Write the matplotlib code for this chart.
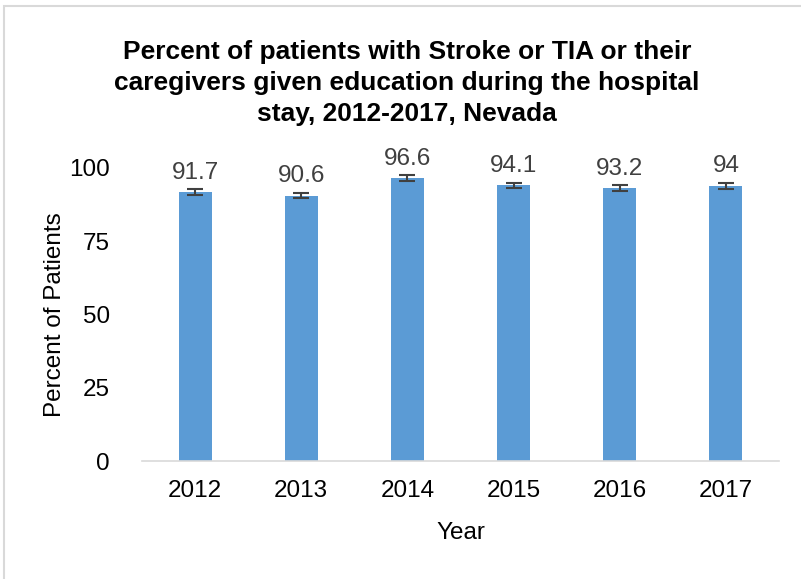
import matplotlib
matplotlib.use("Agg")
import matplotlib.pyplot as plt
from matplotlib.patches import Rectangle

years = ["2012", "2013", "2014", "2015", "2016", "2017"]
values = [91.7, 90.6, 96.6, 94.1, 93.2, 94]
labels = ["91.7", "90.6", "96.6", "94.1", "93.2", "94"]
errors = [1.0, 1.0, 0.9, 0.9, 1.0, 1.0]
yticks = [0, 25, 50, 75, 100]

FONT = ["Liberation Sans", "DejaVu Sans"]
plt.rcParams["font.family"] = FONT

fig = plt.figure(figsize=(8.01, 5.79), dpi=100)
fig.patches.append(Rectangle((4 / 801, -0.1), 1.2, (579 - 6) / 579 + 0.1,
                             transform=fig.transFigure, fill=False,
                             edgecolor="#d9d9d9", linewidth=1.5))

ax = fig.add_axes([142 / 801, 1 - 461 / 579, (779 - 142) / 801, (461 - 168) / 579])
x = list(range(len(years)))
ax.bar(x, values, width=0.31, color="#5B9BD5", zorder=2,
       yerr=errors, error_kw=dict(ecolor="#404040", elinewidth=1.5,
                                  capsize=6, capthick=1.5))
for xi, v, lab in zip(x, values, labels):
    ax.annotate(lab, (xi, v), xytext=(0, 6), textcoords="offset points",
                ha="center", va="bottom", fontsize=17.5, color="#404040")

ax.set_xlim(-0.5, len(years) - 0.5)
ax.set_ylim(0, 100)
ax.set_yticks(yticks)
ax.set_xticks(x)
ax.set_xticklabels(years)
ax.tick_params(axis="both", length=0, labelsize=17.5, colors="black")
ax.tick_params(axis="y", pad=23)
ax.tick_params(axis="x", pad=14)
for s in ["top", "right", "left"]:
    ax.spines[s].set_visible(False)
ax.spines["bottom"].set_color("#d9d9d9")
ax.spines["bottom"].set_linewidth(1.2)

ax.set_xlabel("Year", fontsize=17.5)
ax.xaxis.set_label_coords(0.5, (461 - 522) / 293)
ax.set_ylabel("Percent of Patients", fontsize=17.5)
ax.yaxis.set_label_coords((55 - 142) / 637, 0.5)
ax.yaxis.label.set_va("center")

fig.text(0.508, 1 - 83 / 579, "Percent of patients with Stroke or TIA or their\n"
         "caregivers given education during the hospital\nstay, 2012-2017, Nevada",
         ha="center", va="center", fontsize=19, fontweight="bold",
         linespacing=1.38, color="black")

fig.savefig("out.png", dpi=100)
